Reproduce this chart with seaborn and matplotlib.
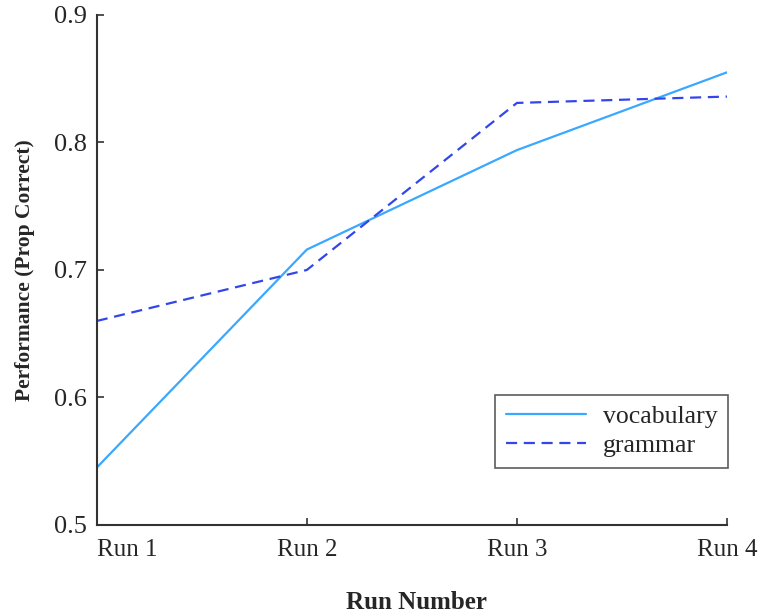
import matplotlib
matplotlib.use("Agg")
import matplotlib.pyplot as plt
import seaborn as sns
import pandas as pd

runs = ["Run 1", "Run 2", "Run 3", "Run 4"]
vocabulary = [0.545, 0.716, 0.794, 0.855]
grammar = [0.660, 0.700, 0.831, 0.836]
yticks = [0.5, 0.6, 0.7, 0.8, 0.9]

sns.set_theme(style="ticks")
plt.rcParams["font.family"] = ["Liberation Serif", "DejaVu Serif"]

df = pd.DataFrame({
    "run": list(range(len(runs))) * 2,
    "value": vocabulary + grammar,
    "series": ["vocabulary"] * len(runs) + ["grammar"] * len(runs),
})

fig = plt.figure(figsize=(7.62, 6.13), dpi=100)
ax = fig.add_axes([0.127, 0.1436, 0.827, 0.832])

sns.lineplot(data=df, x="run", y="value", hue="series", style="series",
             palette={"vocabulary": "#3aa8ff", "grammar": "#3346ea"},
             dashes={"vocabulary": "", "grammar": (5, 3)},
             linewidth=1.6, ax=ax)

ax.set_xlim(0, 3)
ax.set_ylim(0.5, 0.9)
ax.set_xticks(range(len(runs)))
ax.set_xticklabels(runs, fontsize=18)
ax.set_yticks(yticks)
ax.set_yticklabels([f"{v:.1f}" for v in yticks], fontsize=19)
ax.get_xticklabels()[0].set_ha("left")
ax.tick_params(direction="in", length=5, width=1.2, color="#333333")
ax.tick_params(axis="x", pad=10)
ax.tick_params(axis="y", pad=7)
for s in ["top", "right"]:
    ax.spines[s].set_visible(False)
for s in ["left", "bottom"]:
    ax.spines[s].set_linewidth(1.5)
    ax.spines[s].set_color("#333333")

ax.set_xlabel("Run Number", fontsize=18, fontweight="bold", labelpad=22)
ax.xaxis.set_label_coords(0.508, -0.13)
ax.set_ylabel("Performance (Prop Correct)", fontsize=15.5, fontweight="bold", labelpad=14)

leg = ax.legend(title=None, fontsize=18.5, loc="lower right",
                bbox_to_anchor=(1.002, 0.112), borderaxespad=0,
                frameon=True, fancybox=False,
                edgecolor="#333333", handlelength=3.1, borderpad=0.42,
                labelspacing=0.22, handletextpad=0.66)
leg.get_frame().set_linewidth(1.2)

fig.savefig("out.png", dpi=100)
